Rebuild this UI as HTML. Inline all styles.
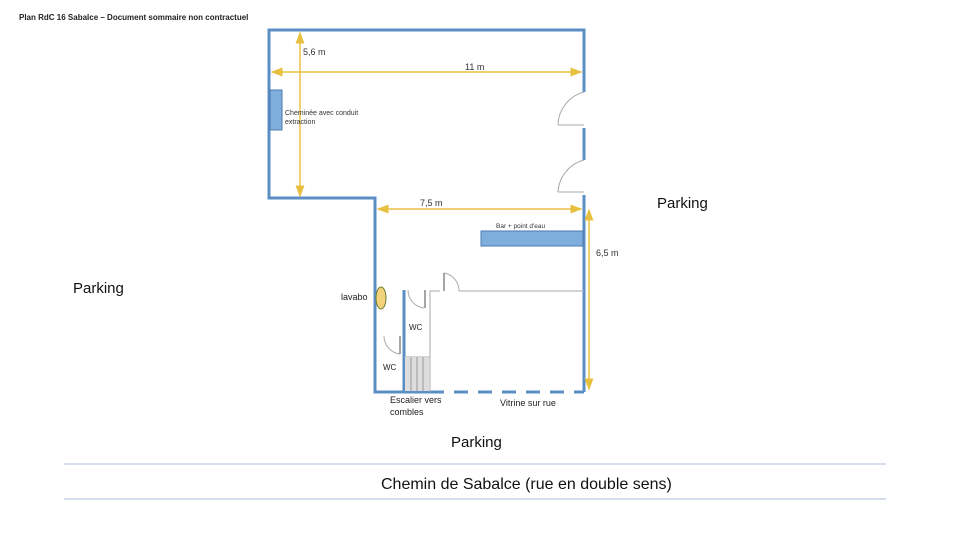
<!DOCTYPE html>
<html><head><meta charset="utf-8"><style>
body{margin:0;background:#fff;}
svg{display:block;font-family:"Liberation Sans",sans-serif;}
</style></head><body>
<svg width="960" height="540" viewBox="0 0 960 540">
<defs>
<marker id="a" markerWidth="8" markerHeight="8" refX="7" refY="4" orient="auto-start-reverse"><path d="M0,1 L8,4 L0,7 z" fill="#e8c040"/></marker>
</defs>
<text x="19" y="20" font-size="8" font-weight="bold" fill="#222">Plan RdC 16 Sabalce – Document sommaire non contractuel</text>
<g stroke="#5b8ec4" stroke-width="3" fill="none">
<path d="M584,92 V30 H269 V198 H375 V392 H430"/>
<path d="M584,128 V160"/>
<path d="M584,195 V392"/>
<path d="M430,392 H584" stroke-dasharray="14,10"/>
<path d="M404,392 V290"/>
</g>
<g stroke="#e8c040" stroke-width="1.5" marker-start="url(#a)" marker-end="url(#a)">
<line x1="300" y1="33" x2="300" y2="196"/>
<line x1="272" y1="72" x2="581" y2="72"/>
<line x1="378" y1="209" x2="581" y2="209"/>
<line x1="589" y1="210" x2="589" y2="389"/>
</g>
<text x="303" y="55" font-size="9" fill="#333">5,6 m</text>
<text x="465" y="70" font-size="9" fill="#333">11 m</text>
<text x="420" y="206" font-size="9" fill="#333">7,5 m</text>
<text x="596" y="256" font-size="9" fill="#333">6,5 m</text>
<rect x="270" y="90" width="12" height="40" fill="#80aedc" stroke="#4a7ab0"/>
<text x="285" y="115" font-size="7" fill="#333">Cheminée avec conduit</text>
<text x="285" y="124" font-size="7" fill="#333">extraction</text>
<rect x="481" y="231" width="102" height="15" fill="#80aedc" stroke="#4a7ab0"/>
<text x="496" y="228" font-size="6.5" fill="#333">Bar + point d'eau</text>
<ellipse cx="381" cy="298" rx="5" ry="11" fill="#f2d37a" stroke="#6a7a30"/>
<text x="341" y="300" font-size="9" fill="#222">lavabo</text>
<g stroke="#aaa" stroke-width="1" fill="none">
<path d="M584,92 A35,35 0 0 0 558,125"/><line x1="558" y1="125" x2="584" y2="125"/>
<path d="M584,160 A35,35 0 0 0 558,192"/><line x1="558" y1="192" x2="584" y2="192"/>
<line x1="459" y1="291" x2="584" y2="291"/>
<line x1="430" y1="291" x2="440" y2="291"/>
<path d="M444,273 A18,18 0 0 1 459,291"/>
<path d="M408,290 A18,18 0 0 0 424,308"/>
<path d="M384,336 A18,18 0 0 0 400,354"/>
<line x1="404" y1="357" x2="430" y2="357"/>
<line x1="430" y1="291" x2="430" y2="392"/>
</g>
<g stroke="#888" stroke-width="1.5"><line x1="444" y1="273" x2="444" y2="291"/><line x1="425" y1="290" x2="425" y2="308"/><line x1="400" y1="336" x2="400" y2="354"/></g>
<rect x="405" y="357" width="24" height="34" fill="#ddd"/>
<g stroke="#999"><line x1="411" y1="357" x2="411" y2="391"/><line x1="417" y1="357" x2="417" y2="391"/><line x1="423" y1="357" x2="423" y2="391"/></g>
<text x="409" y="330" font-size="8" fill="#222">WC</text>
<text x="383" y="370" font-size="8" fill="#222">WC</text>
<text x="390" y="403" font-size="9" fill="#222">Escalier vers</text>
<text x="390" y="415" font-size="9" fill="#222">combles</text>
<text x="500" y="406" font-size="9" fill="#222">Vitrine sur rue</text>
<text x="657" y="208" font-size="15" fill="#111">Parking</text>
<text x="73" y="293" font-size="15" fill="#111">Parking</text>
<text x="451" y="447" font-size="15" fill="#111">Parking</text>
<line x1="64" y1="464" x2="886" y2="464" stroke="#a8bcd8"/>
<line x1="64" y1="499" x2="886" y2="499" stroke="#a8bcd8"/>
<text x="381" y="489" font-size="16" fill="#111">Chemin de Sabalce (rue en double sens)</text>
</svg>
</body></html>
